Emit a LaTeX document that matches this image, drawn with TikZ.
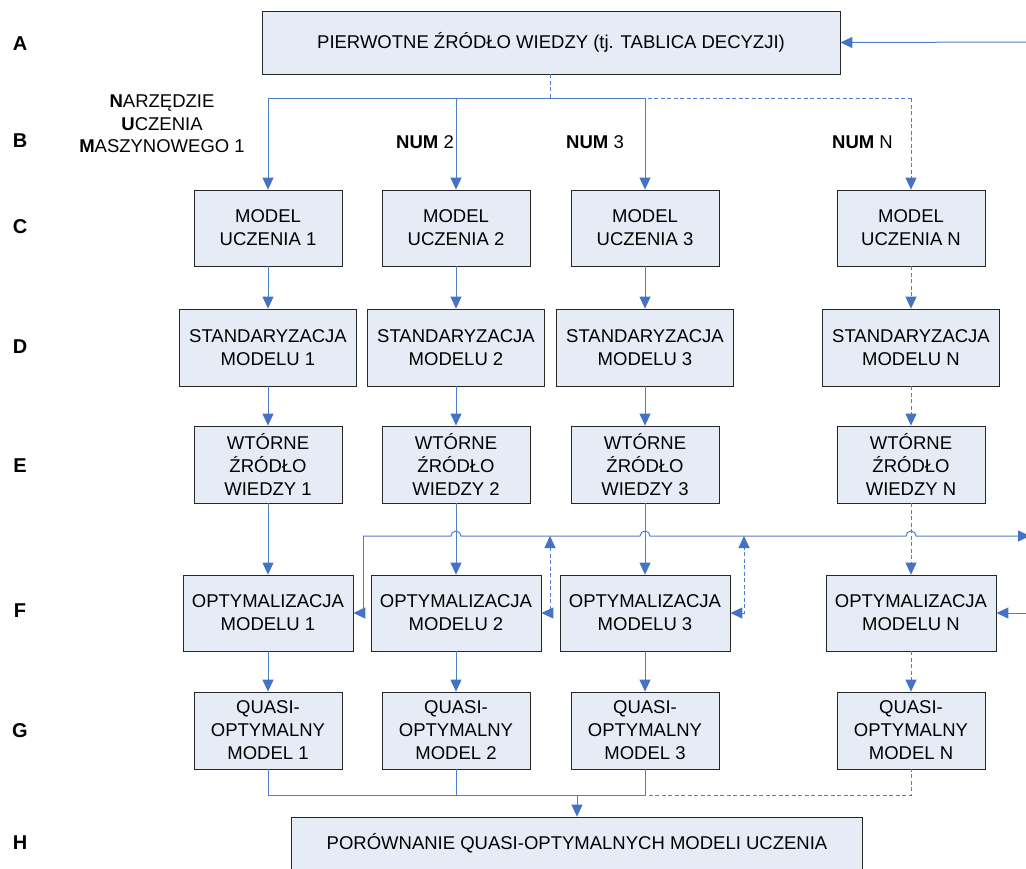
\documentclass[tikz,border=0pt]{standalone}
\usepackage{fontspec}
\setmainfont{Liberation Sans}
\usetikzlibrary{arrows.meta}
\definecolor{boxfill}{RGB}{230,236,246}
\definecolor{lineblue}{RGB}{79,126,200}
\definecolor{tipblue}{RGB}{68,114,196}
\tikzset{
  bx/.style={draw=black!85, fill=boxfill, line width=0.8pt, align=center, inner sep=0pt,
    font=\fontsize{18.5}{23}\selectfont},
  bc/.style={bx, minimum width=148pt, minimum height=76pt},
  bd/.style={bx, minimum width=177pt, minimum height=77pt},
  bf/.style={bx, minimum width=170pt, minimum height=76pt},
  conn/.style={draw=lineblue, line width=1pt},
  arr/.style={conn, -{Triangle[length=12pt,width=11pt,color=tipblue]}},
  dconn/.style={conn, dash pattern=on 4pt off 2.5pt},
  darr/.style={arr, dash pattern=on 4pt off 2.5pt},
  rowlab/.style={font=\fontsize{20}{24}\selectfont\bfseries},
  lab/.style={font=\fontsize{18.5}{22.5}\selectfont, align=center, inner sep=0pt},
}
\begin{document}
\begin{tikzpicture}[x=1pt,y=-1pt]
\useasboundingbox (0,0) rectangle (1026,868);
% row letters
\foreach \l/\yy in {A/44,B/141,C/227,D/347,E/466,F/611,G/731,H/843}
  \node[rowlab] (row\l) at (20,\yy) {\l};
% A
\node[bx, minimum width=578pt, minimum height=63pt] (A) at (551,42.5) {PIERWOTNE ŹRÓDŁO WIEDZY (tj. TABLICA DECYZJI)};
% column labels
\node[lab] (num1) at (162,124) {\textbf{N}ARZĘDZIE\\\textbf{U}CZENIA\\\textbf{M}ASZYNOWEGO 1};
\node[lab, anchor=east] (num2) at (454,142) {\textbf{NUM} 2};
\node[lab, anchor=east] (num3) at (624,142) {\textbf{NUM} 3};
\node[lab, anchor=east] (numN) at (893,142) {\textbf{NUM} N};
% rows C..G
\foreach \c/\x in {1/268,2/456,3/645,N/911}{
  \node[bc] (C\c) at (\x,228) {MODEL\\UCZENIA \c};
  \node[bd] (D\c) at (\x,347.5) {STANDARYZACJA\\MODELU \c};
  \node[bc, minimum height=77pt] (E\c) at (\x,464.5) {WTÓRNE\\ŹRÓDŁO\\WIEDZY \c};
  \node[bf] (F\c) at (\x,613) {OPTYMALIZACJA\\MODELU \c};
  \node[bc, minimum height=77pt] (G\c) at (\x,730.5) {QUASI-\\OPTYMALNY\\MODEL \c};
}
% H
\node[bx, minimum width=571pt, minimum height=52pt] (H) at (577,843) {PORÓWNANIE QUASI-OPTYMALNYCH MODELI UCZENIA};
% coordinates
\coordinate (tin) at (1030,42);
\coordinate (ta) at (550,98);
\coordinate (t1) at (268,98);
\coordinate (t2) at (456,98);
\coordinate (t3) at (645,98);
\coordinate (tN) at (911,98);
\coordinate (fl) at (363,536);
\coordinate (fr) at (1030,536);
\coordinate (fin) at (1030,613);
\coordinate (d2) at (550,536);
\coordinate (d3) at (744,536);
\coordinate (b1) at (268,795);
\coordinate (b3) at (645,795);
\coordinate (bN) at (911,795);
\coordinate (bj) at (577,795);
% top input
\draw[arr] (tin) -- (A.east);
% distribution
\draw[dconn] (A.south -| ta) -- (ta);
\draw[conn] (t1) -- (t3);
\draw[dconn] (ta) -- (tN);
\draw[arr] (t1) -- (C1.north);
\draw[arr] (t2) -- (C2.north);
\draw[arr] (t3) -- (C3.north);
\draw[darr] (tN) -- (CN.north);
% vertical chains
\foreach \c in {1,2,3}{
  \draw[arr] (C\c) -- (D\c);
  \draw[arr] (D\c) -- (E\c);
  \draw[arr] (E\c) -- (F\c);
  \draw[arr] (F\c) -- (G\c);
}
\draw[darr] (CN) -- (DN);
\draw[darr] (DN) -- (EN);
\draw[darr] (EN) -- (FN);
\draw[darr] (FN) -- (GN);
% feedback bus with hops
\draw[arr] (fl) -- (451,536) arc[start angle=180,end angle=0,radius=5pt]
  -- (640,536) arc[start angle=180,end angle=0,radius=5pt]
  -- (906,536) arc[start angle=180,end angle=0,radius=5pt] -- (fr);
\draw[arr] (fl) |- (F1.east);
\draw[darr, {Triangle[length=12pt,width=11pt,color=tipblue]}-{Triangle[length=12pt,width=11pt,color=tipblue]}] (F2.east) -| (d2);
\draw[darr, {Triangle[length=12pt,width=11pt,color=tipblue]}-{Triangle[length=12pt,width=11pt,color=tipblue]}] (F3.east) -| (d3);
\draw[arr] (fin) -- (FN.east);
% bottom collection
\draw[conn] (G1.south) -- (b1) -- (b3) -- (G3.south);
\draw[conn] (G2.south) -- (G2.south |- b1);
\draw[dconn] (bj) -- (bN) -- (GN.south);
\draw[arr] (bj) -- (H.north);
\end{tikzpicture}
\end{document}
